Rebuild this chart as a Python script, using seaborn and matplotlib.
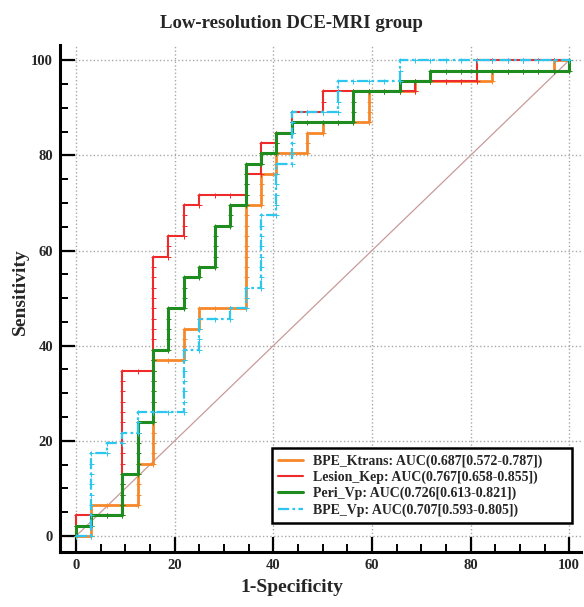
import numpy as np
import pandas as pd
import matplotlib
matplotlib.use("Agg")
import matplotlib.pyplot as plt
from matplotlib.ticker import MultipleLocator
import seaborn as sns

# ---------------- data (ROC step vertices, in case counts) ----------------
N_NEG = 32   # negatives (1-Specificity denominator)
N_POS = 46   # positives (Sensitivity denominator)

ktrans_fp = [0, 1, 1, 4, 4, 5, 5, 7, 7, 8, 8, 11, 11, 12, 12, 13, 13, 15, 15, 16, 16, 19, 19, 22, 22, 27, 27, 31, 31, 32]
ktrans_tp = [0, 0, 3, 3, 7, 7, 17, 17, 20, 20, 22, 22, 32, 32, 35, 35, 37, 37, 39, 39, 40, 40, 43, 43, 44, 44, 45, 45, 46, 46]

kep_fp = [0, 0, 3, 3, 5, 5, 6, 6, 7, 7, 8, 8, 11, 11, 12, 12, 13, 13, 14, 14, 16, 16, 22, 22, 26, 26, 32]
kep_tp = [0, 2, 2, 16, 16, 27, 27, 29, 29, 32, 32, 33, 33, 35, 35, 38, 38, 39, 39, 41, 41, 43, 43, 44, 44, 46, 46]

peri_fp = [0, 0, 1, 1, 3, 3, 4, 4, 5, 5, 6, 6, 7, 7, 8, 8, 9, 9, 10, 10, 11, 11, 12, 12, 13, 13, 14, 14, 18, 18, 21, 21, 23, 23, 32, 32]
peri_tp = [0, 1, 1, 2, 2, 6, 6, 11, 11, 18, 18, 22, 22, 25, 25, 26, 26, 30, 30, 32, 32, 36, 36, 37, 37, 39, 39, 40, 40, 43, 43, 44, 44, 45, 45, 46]

vp_fp = [0, 1, 1, 2, 2, 3, 3, 4, 4, 7, 7, 8, 8, 10, 10, 11, 11, 12, 12, 13, 13, 14, 14, 17, 17, 21, 21, 32]
vp_tp = [0, 0, 8, 8, 9, 9, 10, 10, 12, 12, 18, 18, 21, 21, 22, 22, 24, 24, 31, 31, 36, 36, 41, 41, 44, 44, 46, 46]

labels = ["BPE_Ktrans: AUC(0.687[0.572-0.787])",
          "Lesion_Kep: AUC(0.767[0.658-0.855])",
          "Peri_Vp: AUC(0.726[0.613-0.821])",
          "BPE_Vp: AUC(0.707[0.593-0.805])"]

title = "Low-resolution DCE-MRI group"
xlabel = "1-Specificity"
ylabel = "Sensitivity"
ticks = [0, 20, 40, 60, 80, 100]

# ---------------- style ----------------
sns.set_style("ticks")
plt.rcParams["font.family"] = ["Liberation Serif", "DejaVu Serif"]
plt.rcParams["font.weight"] = "bold"

colors = ["#f7882a", "#ee2a2a", "#1e8c1e", "#2cc6ee"]
widths = [2.0, 1.5, 2.2, 1.6]
styles = ["-", "-", "-", (0, (5, 1.5, 1.2, 1.5))]


def unit_path(fp, tp):
    """Walk the step path vertex by vertex, one case at a time."""
    xs, ys = [fp[0]], [tp[0]]
    for (x0, y0), (x1, y1) in zip(zip(fp[:-1], tp[:-1]), zip(fp[1:], tp[1:])):
        if x0 == x1:
            for y in range(y0 + 1, y1 + 1):
                xs.append(x0); ys.append(y)
        else:
            for x in range(x0 + 1, x1 + 1):
                xs.append(x); ys.append(y0)
    return np.array(xs) * 100.0 / N_NEG, np.array(ys) * 100.0 / N_POS


fig = plt.figure(figsize=(5.84, 6.07), dpi=100)
ax = fig.add_axes([60 / 584, 55 / 607, 521 / 584, 507 / 607])

# diagonal reference
diag = pd.DataFrame({"x": [0, 100], "y": [0, 100]})
sns.lineplot(data=diag, x="x", y="y", ax=ax, color="#c99a9a", lw=0.9,
             sort=False, estimator=None, legend=False)

series = [(ktrans_fp, ktrans_tp), (kep_fp, kep_tp), (peri_fp, peri_tp), (vp_fp, vp_tp)]
for (fp, tp), lab, c, w, ls in zip(series, labels, colors, widths, styles):
    xs, ys = unit_path(fp, tp)
    df = pd.DataFrame({"x": xs, "y": ys})
    sns.lineplot(data=df, x="x", y="y", ax=ax, color=c, lw=w, linestyle=ls,
                 sort=False, estimator=None, label=lab,
                 marker="+", markersize=3.6, markeredgewidth=0.7,
                 markeredgecolor=c, markerfacecolor=c)

ax.set_xlim(-3.25, 102.4)
ax.set_ylim(-3.36, 103.2)
ax.set_xticks(ticks)
ax.set_yticks(ticks)
ax.xaxis.set_minor_locator(MultipleLocator(5))
ax.yaxis.set_minor_locator(MultipleLocator(5))
ax.tick_params(which="major", direction="in", length=11, width=1.6, pad=5,
               labelsize=10.5, color="black")
ax.tick_params(which="minor", direction="in", length=5.5, width=1.4, color="black")
for lab in ax.get_xticklabels() + ax.get_yticklabels():
    lab.set_fontweight("bold")

ax.grid(True, which="major", linestyle=":", color="#a8a8a8", lw=1.0)
for s in ["top", "right"]:
    ax.spines[s].set_visible(False)
for s in ["left", "bottom"]:
    ax.spines[s].set_linewidth(2.2)
    ax.spines[s].set_color("black")
ax.set_xlabel("")
ax.set_ylabel("")

x0 = (272 - 60) / 521
x1 = (572 - 60) / 521
y0 = (552 - 523) / 507
y1 = (552 - 448) / 507
leg = ax.legend(loc="lower left", bbox_to_anchor=(x0, y0, x1 - x0, y1 - y0),
                mode="expand", borderaxespad=0,
                fancybox=False, framealpha=1, edgecolor="black",
                prop={"family": "Liberation Serif", "weight": "bold", "size": 10},
                handlelength=1.8, handletextpad=0.7, labelspacing=0.2, borderpad=0.45)
leg.get_frame().set_linewidth(1.8)
for h in leg.legend_handles:
    h.set_marker("None")

fig.text(291 / 584, 1 - 23 / 607, title, ha="center", va="center",
         fontsize=13.5, fontweight="bold")
fig.text(292 / 584, 1 - 588 / 607, xlabel, ha="center", va="center",
         fontsize=14, fontweight="bold")
fig.text(20 / 584, 1 - 292 / 607, ylabel, ha="center", va="center",
         rotation=90, fontsize=14, fontweight="bold")

fig.savefig("out.png", dpi=100)
